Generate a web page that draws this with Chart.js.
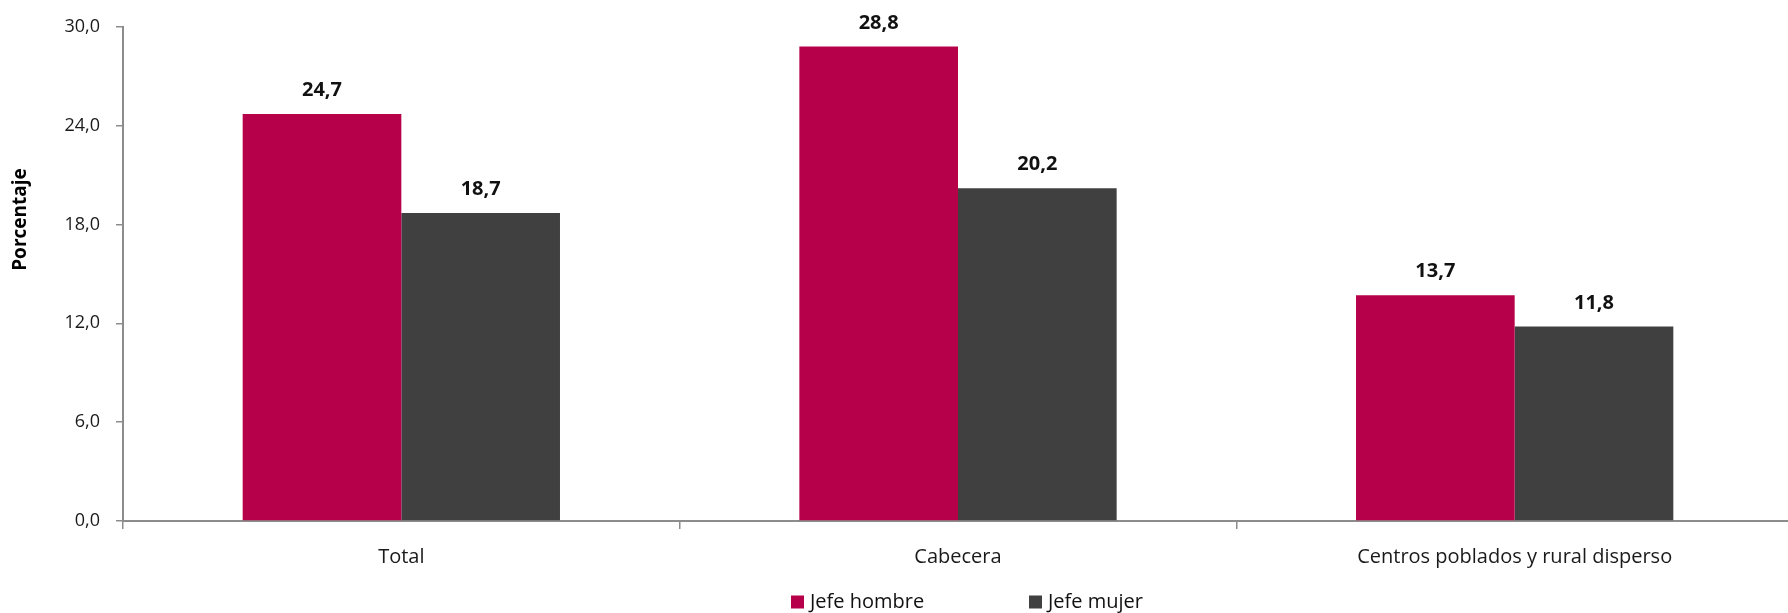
<!DOCTYPE html>
<html>
<head>
<meta charset="utf-8">
<script src="https://cdn.jsdelivr.net/npm/chart.js@4.4.0/dist/chart.umd.min.js"></script>
<style>
  html, body { margin: 0; padding: 0; background: #fff; overflow: hidden; }
  #chart-container { width: 1793px; height: 613px; position: relative; }
</style>
</head>
<body>
<div id="chart-container"><canvas id="chart"></canvas></div>
<script>
// chart data
const categories = ["Total", "Cabecera", "Centros poblados y rural disperso"];
const jefeHombre = [24.7, 28.8, 13.7];
const jefeMujer = [18.7, 20.2, 11.8];
const yTicks = [0, 6, 12, 18, 24, 30];

const RED = "#B7004A";
const GREY = "#404040";
const AXIS = "#8C8C8C";
const FONT = "'Open Sans', 'Noto Sans', sans-serif";

const fmt = (v) => v.toFixed(1).replace(".", ",");

// value labels above each bar
const barLabels = {
  id: "barLabels",
  afterDatasetsDraw(chart) {
    const ctx = chart.ctx;
    ctx.save();
    ctx.font = "bold 20px " + FONT;
    ctx.fillStyle = "#111";
    ctx.textAlign = "center";
    ctx.textBaseline = "alphabetic";
    chart.data.datasets.forEach((ds, i) => {
      chart.getDatasetMeta(i).data.forEach((bar, j) => {
        ctx.fillText(fmt(ds.data[j]), bar.x, bar.y - 18);
      });
    });
    ctx.restore();
  }
};

// y axis title and legend
const extras = {
  id: "extras",
  afterDraw(chart) {
    const ctx = chart.ctx;
    const area = chart.chartArea;
    ctx.save();
    ctx.font = "bold 19px " + FONT;
    ctx.fillStyle = "#000";
    ctx.textAlign = "center";
    ctx.textBaseline = "middle";
    ctx.translate(21, area.top + (area.bottom - area.top) * 0.39);
    ctx.rotate(-Math.PI / 2);
    ctx.fillText("Porcentaje", 0, 0);
    ctx.restore();

    ctx.save();
    ctx.font = "20px " + FONT;
    ctx.textBaseline = "middle";
    const starts = [791, 1029];
    const y = 602;
    chart.data.datasets.forEach((ds, i) => {
      ctx.fillStyle = ds.backgroundColor;
      ctx.fillRect(starts[i], y - 6.5, 13, 13);
      ctx.fillStyle = "#111";
      ctx.fillText(ds.label, starts[i] + 19, y);
    });
    ctx.restore();
  }
};

new Chart(document.getElementById("chart").getContext("2d"), {
  type: "bar",
  data: {
    labels: categories,
    datasets: [
      { label: "Jefe hombre", data: jefeHombre, backgroundColor: RED },
      { label: "Jefe mujer", data: jefeMujer, backgroundColor: GREY }
    ]
  },
  options: {
    responsive: true,
    maintainAspectRatio: false,
    animation: false,
    categoryPercentage: 0.57,
    barPercentage: 1,
    layout: { padding: { top: 24, left: 0, right: 0, bottom: 0 } },
    plugins: {
      legend: { display: false },
      tooltip: { enabled: false }
    },
    scales: {
      x: {
        grid: { display: true, drawOnChartArea: false, offset: true, tickLength: 8, color: AXIS, lineWidth: 1.5 },
        border: { color: AXIS, width: 2 },
        ticks: { color: "#1a1a1a", font: { family: FONT, size: 20 }, padding: 16, maxRotation: 0 },
        afterFit: (s) => { s.height = 92; }
      },
      y: {
        min: 0,
        max: 30,
        afterBuildTicks: (s) => { s.ticks = yTicks.map((v) => ({ value: v })); },
        grid: { display: true, drawOnChartArea: false, tickLength: 7, color: AXIS, lineWidth: 1.5 },
        border: { color: AXIS, width: 2 },
        ticks: { color: "#1a1a1a", font: { family: FONT, size: 18 }, padding: 16, callback: (v) => fmt(v) },
        afterFit: (s) => { s.width = 123; }
      }
    }
  },
  plugins: [barLabels, extras]
});
</script>
</body>
</html>
